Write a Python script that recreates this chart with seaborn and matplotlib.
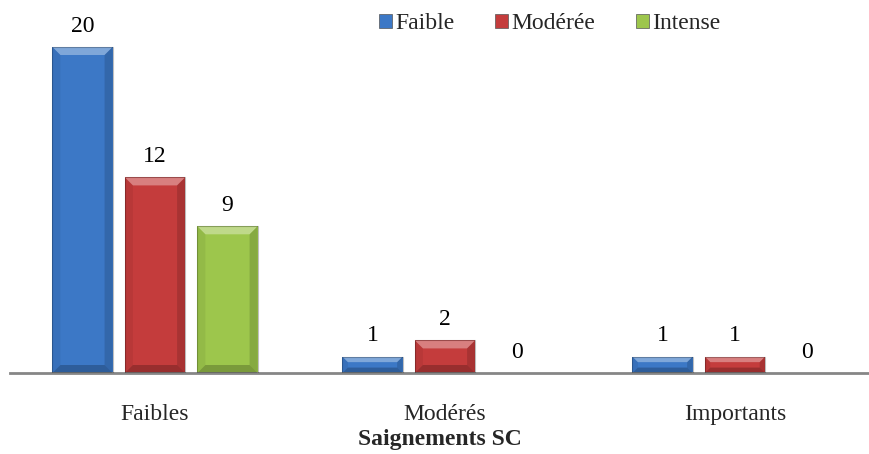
import numpy as np
import pandas as pd
import matplotlib
matplotlib.use("Agg")
import matplotlib.pyplot as plt
from matplotlib.patches import Polygon
import seaborn as sns

categories = ["Faibles", "Modérés", "Importants"]
intensities = ["Faible", "Modérée", "Intense"]
faible = [20, 1, 1]
moderee = [12, 2, 1]
intense = [9, 0, 0]
colors = ["#3c78c6", "#c43c3c", "#9dc64c"]
x_title = "Saignements SC"

rows = []
for name, vals in zip(intensities, [faible, moderee, intense]):
    for cat, v in zip(categories, vals):
        rows.append({"cat": cat, "intensity": name, "value": v})
df = pd.DataFrame(rows)

sns.set_theme(style="white")
plt.rcParams["font.family"] = ["Liberation Serif", "DejaVu Serif"]

FS = 17
W, H, DPI = 869, 454, 100
fig = plt.figure(figsize=(W / DPI, H / DPI), dpi=DPI)
ax = fig.add_axes([10 / W, 81 / H, 859 / W, 373 / H])

sns.barplot(data=df, x="cat", y="value", hue="intensity", order=categories,
            hue_order=intensities, palette=colors, width=0.75, gap=0.17,
            saturation=1, ax=ax, legend=False, edgecolor="none")

ax.set_xlim(-0.5, -0.5 + 859 / 290)
ax.set_ylim(0, 373 / 16.3)

# bevel shading on each bar, sized in pixels
fig.canvas.draw()
to_disp = ax.transData
to_data = ax.transData.inverted()
bev = 8
for cont, col in zip(ax.containers, colors):
    for p in cont.patches:
        h = p.get_height()
        if h <= 0:
            continue
        x0, y0 = p.get_x(), p.get_y()
        (px0, py0) = to_disp.transform((x0, y0))
        (px1, py1) = to_disp.transform((x0 + p.get_width(), y0 + h))
        b = min(bev, (py1 - py0) / 3)

        def poly(pts, fc, a):
            d = to_data.transform(pts)
            ax.add_patch(Polygon(d, closed=True, facecolor=fc, alpha=a,
                                 edgecolor="none", zorder=3))
        # top
        poly([(px0, py1), (px1, py1), (px1 - b, py1 - b), (px0 + b, py1 - b)], "white", 0.35)
        # bottom
        poly([(px0, py0), (px1, py0), (px1 - b, py0 + b), (px0 + b, py0 + b)], "black", 0.22)
        # left
        poly([(px0, py0), (px0, py1), (px0 + b, py1 - b), (px0 + b, py0 + b)], "black", 0.06)
        # right
        poly([(px1, py0), (px1, py1), (px1 - b, py1 - b), (px1 - b, py0 + b)], "black", 0.14)
        # darker outline
        ax.add_patch(plt.Rectangle((x0, y0), p.get_width(), h, facecolor="none",
                                   edgecolor="black", alpha=0.25, lw=0.8, zorder=4))

for cont in ax.containers:
    ax.bar_label(cont, labels=[f"{int(v)}" for v in cont.datavalues],
                 padding=7.5, fontsize=FS, color="black")

sns.despine(ax=ax, left=True, top=True, right=True)
ax.spines["bottom"].set_color("#868686")
ax.spines["bottom"].set_linewidth(2)
ax.set_yticks([])
ax.set_ylabel("")
ax.tick_params(axis="x", length=0, pad=22, labelsize=FS)
ax.set_xlabel(x_title, fontsize=FS, fontweight="bold", labelpad=3)

handles = [plt.Rectangle((0, 0), 1, 1, facecolor=c, edgecolor="#555555", lw=0.5) for c in colors]
fig.legend(handles, intensities, loc="center", bbox_to_anchor=(0.6325, 0.948),
           ncol=3, frameon=False, fontsize=FS, handlelength=0.55, handleheight=0.55,
           handletextpad=0.13, columnspacing=1.72)

fig.savefig("out.png", dpi=DPI)
